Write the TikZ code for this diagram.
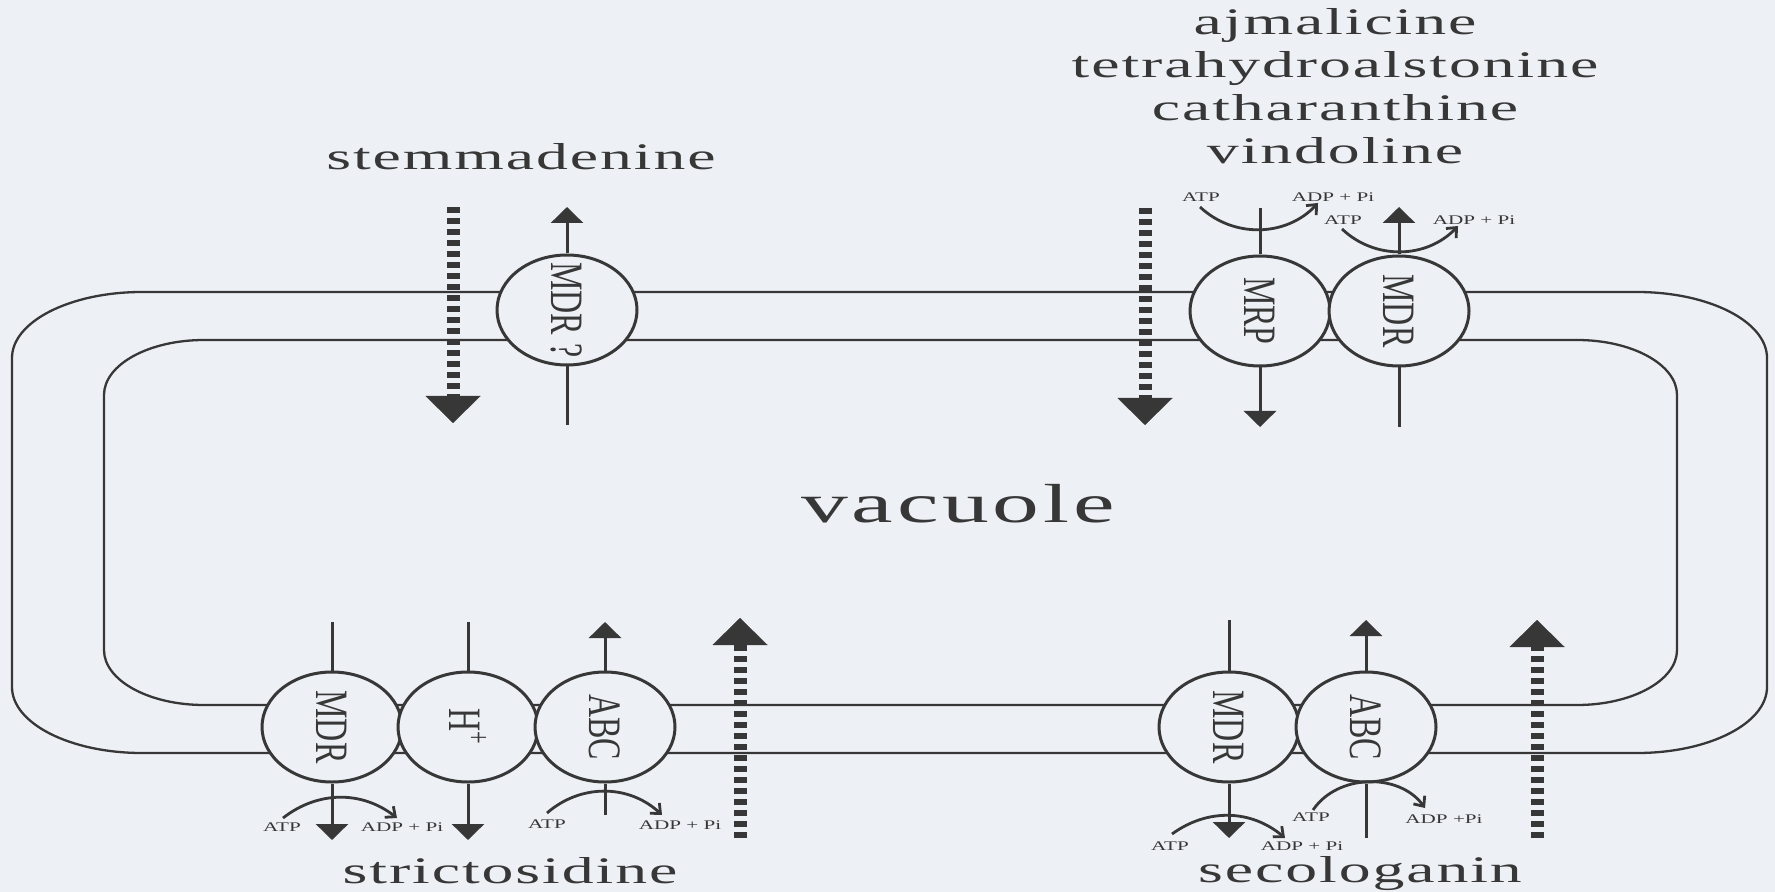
\documentclass[tikz,border=0pt]{standalone}
\usepackage{fontspec}
\setmainfont{Liberation Serif}
\newfontfamily\molfont[LetterSpace=3]{Liberation Serif}
\newfontfamily\vacfont[LetterSpace=4]{Liberation Serif}
\usetikzlibrary{arrows.meta,shapes.geometric}
\definecolor{bg}{RGB}{237,240,245}
\definecolor{ink}{RGB}{55,55,55}
\newcommand\widetext[1]{\scalebox{1.7}[1]{#1}}
\newcommand\wideatp[1]{\scalebox{1.6}[1]{#1}}
\newcommand\tallrot[1]{\scalebox{1}[1.45]{#1}}
\begin{document}
\begin{tikzpicture}[x=0.5pt,y=-0.5pt,
  mem/.style={draw=ink, line width=1.15pt},
  trans/.style={ellipse, draw=ink, fill=bg, line width=1.5pt, minimum width=70pt, minimum height=55pt, inner sep=0pt},
  tlabel/.style={rotate=-90, text=ink, font=\fontsize{16}{18}\selectfont, inner sep=0pt},
  shaft/.style={draw=ink, line width=1.5pt},
  solidarrow/.style={shaft, -{Triangle[width=16pt,length=8pt]}},
  passive/.style={draw=ink, line width=6.5pt, dash pattern=on 3.25pt off 2.25pt, -{Triangle[width=27.5pt,length=13.5pt,line width=0.01pt]}},
  atparc/.style={draw=ink, line width=1.4pt, -{Straight Barb[length=4pt,width=7pt]}},
  atplbl/.style={text=ink, inner sep=0pt, font=\fontsize{6.6}{8}\selectfont},
  molname/.style={text=ink, inner sep=0pt, anchor=base, font=\molfont\fontsize{18.75}{22}\selectfont}]
\fill[bg] (0,0) rectangle (1775,892);
\useasboundingbox (0,0) rectangle (1775,892);

% membranes
\draw[mem] (142,292) -- (1637,292) arc[start angle=90,end angle=0,x radius=65pt,y radius=33pt]
  -- (1767,687) arc[start angle=0,end angle=-90,x radius=65pt,y radius=33pt]
  -- (142,753) arc[start angle=-90,end angle=-180,x radius=65pt,y radius=33pt]
  -- (12,358) arc[start angle=180,end angle=90,x radius=65pt,y radius=33pt] -- cycle;
\draw[mem] (204,340) -- (1577,340) arc[start angle=90,end angle=0,x radius=50pt,y radius=27.5pt]
  -- (1677,650) arc[start angle=0,end angle=-90,x radius=50pt,y radius=27.5pt]
  -- (204,705) arc[start angle=-90,end angle=-180,x radius=50pt,y radius=27.5pt]
  -- (104,395) arc[start angle=180,end angle=90,x radius=50pt,y radius=27.5pt] -- cycle;

% transporters
\node[trans] (mdrq) at (567,310) {};
\node[trans] (mrp) at (1260,311) {};
\node[trans] (mdrt) at (1399,311) {};
\node[trans] (mdrl) at (332,727) {};
\node[trans] (hp) at (468,727) {};
\node[trans] (abcl) at (605,727) {};
\node[trans] (mdrr) at (1229,727) {};
\node[trans] (abcr) at (1366,727) {};

\node[tlabel] (mdrqt) at (mdrq) {\tallrot{MDR ?}};
\node[tlabel] (mrpt) at (mrp) {\tallrot{MRP}};
\node[tlabel] (mdrtt) at (mdrt) {\tallrot{MDR}};
\node[tlabel] (mdrlt) at (mdrl) {\tallrot{MDR}};
\node[tlabel] (hpt) at (hp) {\tallrot{H\textsuperscript{+}}};
\node[tlabel] (abclt) at (abcl) {\tallrot{ABC}};
\node[tlabel] (mdrrt) at (mdrr) {\tallrot{MDR}};
\node[tlabel] (abcrt) at (abcr) {\tallrot{ABC}};

% top left
\coordinate (mdrqtop) at (567,207);
\coordinate (mdrqbot) at (567,425);
\draw[solidarrow] (mdrq.north) -- (mdrqtop);
\draw[shaft] (mdrq.south) -- (mdrqbot);
\coordinate (pqa) at (453,207);
\coordinate (pqb) at (453,423);
\draw[passive] (pqa) -- (pqb);

% top right
\coordinate (pta) at (1145,208);
\coordinate (ptb) at (1145,425);
\draw[passive] (pta) -- (ptb);
\coordinate (mrptop) at (1260,208);
\coordinate (mrpbot) at (1260,427);
\draw[shaft] (mrptop) -- (mrp.north);
\draw[solidarrow] (mrp.south) -- (mrpbot);
\coordinate (mdrttop) at (1399,207);
\coordinate (mdrtbot) at (1399,427);
\draw[solidarrow] (mdrt.north) -- (mdrttop);
\draw[shaft] (mdrt.south) -- (mdrtbot);

\node[atplbl] (atp1) at (1201,197) {\wideatp{ATP}};
\node[atplbl] (adp1) at (1333,197) {\wideatp{ADP + Pi}};
\coordinate (c1a) at (1200,207);
\coordinate (c1b) at (1318,203);
\draw[atparc] (c1a) to[bend right=45] (c1b);
\node[atplbl] (atp2) at (1343,220) {\wideatp{ATP}};
\node[atplbl] (adp2) at (1474,220) {\wideatp{ADP + Pi}};
\coordinate (c2a) at (1342,229);
\coordinate (c2b) at (1458,226);
\draw[atparc] (c2a) to[bend right=45] (c2b);

% bottom left
\coordinate (mdrltop) at (332,622);
\coordinate (mdrlbot) at (332,840);
\draw[shaft] (mdrltop) -- (mdrl.north);
\draw[solidarrow] (mdrl.south) -- (mdrlbot);
\coordinate (hptop) at (468,622);
\coordinate (hpbot) at (468,840);
\draw[shaft] (hptop) -- (hp.north);
\draw[solidarrow] (hp.south) -- (hpbot);
\coordinate (abcltop) at (605,622);
\coordinate (abclbot) at (605,815);
\draw[solidarrow] (abcl.north) -- (abcltop);
\draw[shaft] (abcl.south) -- (abclbot);
\coordinate (pla) at (740,838);
\coordinate (plb) at (740,618);
\draw[passive] (pla) -- (plb);

\node[atplbl] (atp3) at (282,827) {\wideatp{ATP}};
\node[atplbl] (adp3) at (402,827) {\wideatp{ADP + Pi}};
\coordinate (c3a) at (283,818);
\coordinate (c3b) at (397,818);
\draw[atparc] (c3a) to[bend left=38] (c3b);
\node[atplbl] (atp4) at (547,824) {\wideatp{ATP}};
\node[atplbl] (adp4) at (680,825) {\wideatp{ADP + Pi}};
\coordinate (c4a) at (547,813);
\coordinate (c4b) at (662,815);
\draw[atparc] (c4a) to[bend left=42] (c4b);

% bottom right
\coordinate (mdrrtop) at (1229,620);
\coordinate (mdrrbot) at (1229,838);
\draw[shaft] (mdrrtop) -- (mdrr.north);
\draw[solidarrow] (mdrr.south) -- (mdrrbot);
\coordinate (abcrtop) at (1366,620);
\coordinate (abcrbot) at (1366,838);
\draw[solidarrow] (abcr.north) -- (abcrtop);
\draw[shaft] (abcr.south) -- (abcrbot);
\coordinate (pra) at (1537,838);
\coordinate (prb) at (1537,620);
\draw[passive] (pra) -- (prb);

\node[atplbl] (atp5) at (1170,846) {\wideatp{ATP}};
\node[atplbl] (adp5) at (1302,846) {\wideatp{ADP + Pi}};
\coordinate (c5a) at (1172,834);
\coordinate (c5b) at (1285,838);
\draw[atparc] (c5a) to[bend left=38] (c5b);
\node[atplbl] (atp6) at (1311,817) {\wideatp{ATP}};
\node[atplbl] (adp6) at (1444,819) {\wideatp{ADP +Pi}};
\coordinate (c6a) at (1313,810);
\coordinate (c6b) at (1425,808);
\draw[atparc] (c6a) to[bend left=55] (c6b);

% names
\node[molname] (stem) at (521,170) {\widetext{stemmadenine}};
\node[molname] (ajm) at (1335,35) {\widetext{ajmalicine}};
\node[molname] (thas) at (1335,78) {\widetext{tetrahydroalstonine}};
\node[molname] (cath) at (1335,121) {\widetext{catharanthine}};
\node[molname] (vind) at (1335,164) {\widetext{vindoline}};
\node[molname] (stri) at (510,883) {\widetext{strictosidine}};
\node[molname] (seco) at (1360,882) {\widetext{secologanin}};
\node[text=ink, inner sep=0pt, anchor=base, font=\vacfont\fontsize{27.5}{30}\selectfont] (vac) at (958,522) {\widetext{vacuole}};
\end{tikzpicture}
\end{document}
